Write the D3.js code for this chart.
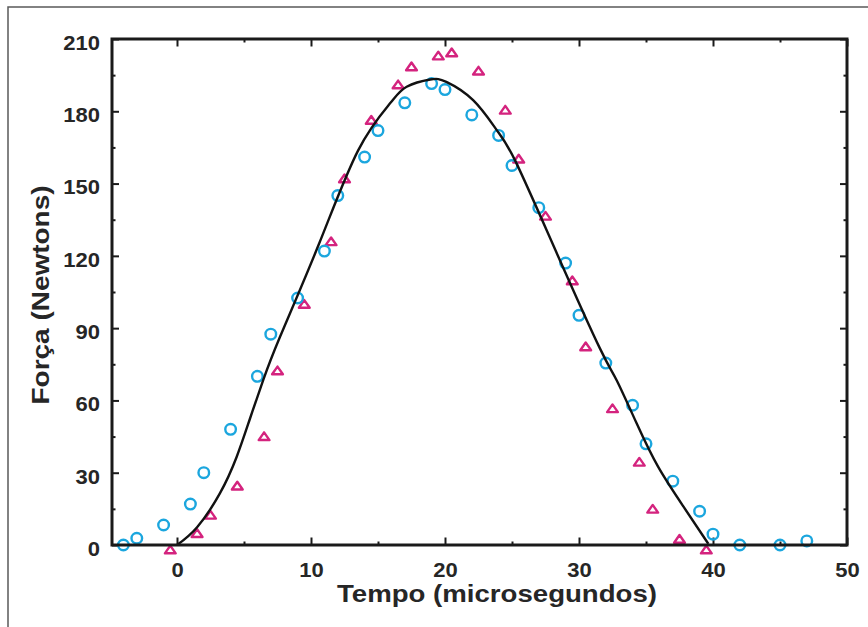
<!DOCTYPE html>
<html>
<head>
<meta charset="utf-8">
<script src="https://cdn.jsdelivr.net/npm/d3@7"></script>
<style>
  html, body { margin: 0; padding: 0; background: #fff; }
  svg { display: block; font-family: "Liberation Sans", Arial, Helvetica, sans-serif; }
</style>
</head>
<body>
<svg id="chart" width="868" height="627"></svg>
<script>
// Dados (tempo em microsegundos, força em Newtons)
const circleTime  = [-4, -3, -1, 1, 2, 4, 6, 7, 9, 11, 12, 14, 15, 17, 19, 20, 22, 24, 25, 27, 29, 30, 32, 34, 35, 37, 39, 40, 42, 45, 47];
const circleForce = [0, 2.8, 8.3, 17, 30, 48, 70, 87.5, 102.5, 122, 145, 161, 172, 183.5, 191.5, 189, 178.5, 170, 157.5, 140, 117, 95.3, 75.5, 58, 42, 26.5, 14, 4.5, 0, 0, 1.7];

const triTime  = [-0.5, 1.5, 2.5, 4.5, 6.5, 7.5, 9.5, 11.5, 12.5, 14.5, 16.5, 17.5, 19.5, 20.5, 22.5, 24.5, 25.5, 27.5, 29.5, 30.5, 32.5, 34.5, 35.5, 37.5, 39.5];
const triForce = [-2, 4.8, 12.4, 24.5, 45, 72.3, 99.9, 125.9, 152, 176.3, 191, 198.5, 203, 204.3, 196.7, 180.5, 160.2, 136.5, 109.7, 82.3, 56.6, 34.4, 14.9, 2.4, -2];

// Curva ajustada (pontos lidos ao longo da linha preta)
const curveTime  = [0, 1.5, 3.2, 4.45, 5.45, 6.44, 7.69, 10.6, 13.53, 15.9, 17.14, 18.9, 20.1, 22.1, 23.86, 25.3, 28.4, 31.57, 32.8, 34.3, 35.9, 37.8, 39.65];
const curveForce = [0, 7.4, 21.4, 36.5, 52.5, 68.5, 86.4, 125, 163.9, 183.3, 190.2, 193.2, 192.2, 184.6, 172.2, 158.8, 120.4, 81.5, 68.5, 50.5, 32.5, 15.9, 0.5];

const xMajorTicks = [0, 10, 20, 30, 40, 50];
const xMinorTicks = [5, 15, 25, 35, 45];
const yMajorTicks = [0, 30, 60, 90, 120, 150, 180, 210];
const yMinorTicks = [15, 45, 75, 105, 135, 165, 195];

const xTitle = 'Tempo (microsegundos)';
const yTitle = 'Força (Newtons)';

const svg = d3.select('#chart');
const mLeft = 112, mRight = 847, mTop = 39, mBottom = 545;
const sx = 1.1; // texto levemente alargado como na figura

const x = d3.scaleLinear().domain([-4.85, 50]).range([mLeft, mRight]);
const y = d3.scaleLinear().domain([0, 210]).range([mBottom, mTop]);

// Moldura externa cinza
svg.append('rect')
    .attr('x', 8).attr('y', 7)
    .attr('width', 900).attr('height', 700)
    .attr('fill', 'none')
    .attr('stroke', '#5a5a5a')
    .attr('stroke-width', 1.5);

// Eixos (ticks para dentro)
function estilo(g) {
    g.select('.domain').remove();
    g.selectAll('.tick line').attr('stroke', '#1a1a1a').attr('stroke-width', 2);
}

svg.append('g').attr('transform', `translate(0,${mBottom})`)
    .call(d3.axisBottom(x).tickValues(xMinorTicks).tickSize(-3.5).tickFormat(''))
    .call(estilo);
svg.append('g').attr('transform', `translate(0,${mTop})`)
    .call(d3.axisTop(x).tickValues(xMinorTicks).tickSize(-3.5).tickFormat(''))
    .call(estilo);
svg.append('g').attr('transform', `translate(0,${mTop})`)
    .call(d3.axisTop(x).tickValues(xMajorTicks).tickSize(-7.5).tickFormat(''))
    .call(estilo);
svg.append('g').attr('transform', `translate(${mLeft},0)`)
    .call(d3.axisLeft(y).tickValues(yMinorTicks).tickSize(-3.5).tickFormat(''))
    .call(estilo);
svg.append('g').attr('transform', `translate(${mRight},0)`)
    .call(d3.axisRight(y).tickValues(yMinorTicks).tickSize(-3.5).tickFormat(''))
    .call(estilo);
svg.append('g').attr('transform', `translate(${mRight},0)`)
    .call(d3.axisRight(y).tickValues(yMajorTicks).tickSize(-7).tickFormat(''))
    .call(estilo);

const xAxis = svg.append('g').attr('transform', `translate(0,${mBottom})`)
    .call(d3.axisBottom(x).tickValues(xMajorTicks).tickSize(-7.5).tickPadding(18).tickFormat(d3.format('d')))
    .call(estilo);
xAxis.selectAll('.tick text')
    .attr('transform', `scale(${sx},1)`)
    .attr('fill', '#262626')
    .attr('font-size', 20)
    .attr('font-weight', 700);

const yAxis = svg.append('g').attr('transform', `translate(${mLeft},0)`)
    .call(d3.axisLeft(y).tickValues(yMajorTicks).tickSize(-7).tickPadding(11).tickFormat(d3.format('d')))
    .call(estilo);
yAxis.selectAll('.tick text')
    .attr('transform', `scale(${sx},1)`)
    .attr('dy', '0.52em')
    .attr('fill', '#262626')
    .attr('font-size', 20)
    .attr('font-weight', 700);

// Marcadores
const circles = circleTime.map((t, i) => ({t: t, f: circleForce[i]}));
const tris = triTime.map((t, i) => ({t: t, f: triForce[i]}));

svg.append('g').selectAll('path.tri')
    .data(tris)
    .enter()
    .append('path')
    .attr('class', 'tri')
    .attr('transform', d => `translate(${x(d.t)},${y(d.f)})`)
    .attr('d', 'M0,-4.2L5.4,3.5L-5.4,3.5Z')
    .attr('fill', 'none')
    .attr('stroke', '#d4237e')
    .attr('stroke-width', 2.4)
    .attr('stroke-linejoin', 'round');

svg.append('g').selectAll('circle')
    .data(circles)
    .enter()
    .append('circle')
    .attr('cx', d => x(d.t))
    .attr('cy', d => y(d.f))
    .attr('r', 5.3)
    .attr('fill', 'none')
    .attr('stroke', '#1ba6de')
    .attr('stroke-width', 2.4);

// Curva
const curve = curveTime.map((t, i) => [t, curveForce[i]]);
svg.append('path')
    .datum(curve)
    .attr('fill', 'none')
    .attr('stroke', '#111')
    .attr('stroke-width', 2.4)
    .attr('d', d3.line()
        .x(d => x(d[0]))
        .y(d => y(d[1]))
        .curve(d3.curveNatural));

// Caixa do gráfico
svg.append('rect')
    .attr('x', mLeft).attr('y', mTop)
    .attr('width', mRight - mLeft).attr('height', mBottom - mTop)
    .attr('fill', 'none')
    .attr('stroke', '#1a1a1a')
    .attr('stroke-width', 3);

// Títulos dos eixos
svg.append('text')
    .attr('x', 497)
    .attr('y', 602)
    .attr('text-anchor', 'middle')
    .attr('font-size', 24)
    .attr('font-weight', 700)
    .attr('fill', '#262626')
    .attr('textLength', 320)
    .attr('lengthAdjust', 'spacingAndGlyphs')
    .text(xTitle);

svg.append('text')
    .attr('transform', 'translate(49,295) rotate(-90)')
    .attr('text-anchor', 'middle')
    .attr('font-size', 23)
    .attr('font-weight', 700)
    .attr('fill', '#262626')
    .attr('textLength', 219)
    .attr('lengthAdjust', 'spacingAndGlyphs')
    .text(yTitle);
</script>
</body>
</html>
